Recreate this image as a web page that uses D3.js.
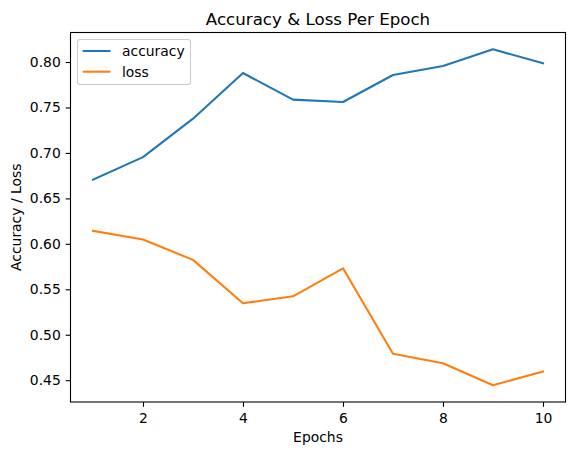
<!DOCTYPE html>
<html>
<head>
<meta charset="utf-8">
<script src="https://cdn.jsdelivr.net/npm/d3@7"></script>
<style>
  html, body { margin: 0; padding: 0; background: #fff; }
  svg { display: block; font-family: "DejaVu Sans", sans-serif; }
</style>
</head>
<body>
<svg id="chart" width="576" height="455"></svg>
<script>
const epochs = [1, 2, 3, 4, 5, 6, 7, 8, 9, 10];
const accuracy = [0.6706, 0.6954, 0.7377, 0.7879, 0.7586, 0.7560, 0.7857, 0.7956, 0.8140, 0.7986];
const loss = [0.6143, 0.6047, 0.5824, 0.5347, 0.5423, 0.5731, 0.4790, 0.4687, 0.4445, 0.4596];
const xTicks = [2, 4, 6, 8, 10];
const yTicks = [0.45, 0.50, 0.55, 0.60, 0.65, 0.70, 0.75, 0.80];
const seriesNames = ["accuracy", "loss"];
const colors = ["#1f77b4", "#ff7f0e"];

(function () {
const svg = d3.select("#chart");
const pLeft = 70.5, pRight = 565.5, pTop = 32.5, pBottom = 402;
const fs = "13.9px";

// matplotlib-like 5% margins
const xExt = d3.extent(epochs);
const xPad = (xExt[1] - xExt[0]) * 0.05;
const allY = accuracy.concat(loss);
const yExt = d3.extent(allY);
const yPad = (yExt[1] - yExt[0]) * 0.05;

const x = d3.scaleLinear().domain([xExt[0] - xPad, xExt[1] + xPad]).range([pLeft, pRight]);
const y = d3.scaleLinear().domain([yExt[0] - yPad, yExt[1] + yPad]).range([pBottom, pTop]);

const series = [accuracy, loss];
const line = d3.line().x((d, i) => x(epochs[i])).y(d => y(d));

const plot = svg.append("g");
series.forEach((s, k) => {
  plot.append("path")
    .attr("d", line(s))
    .attr("fill", "none")
    .attr("stroke", colors[k])
    .attr("stroke-width", 2.08)
    .attr("stroke-linejoin", "round")
    .attr("stroke-linecap", "square");
});

// Axes
const xAxis = d3.axisBottom(x).tickValues(xTicks).tickFormat(d3.format("d")).tickSize(4.86).tickPadding(4.86);
const gx = svg.append("g").attr("transform", `translate(0,${pBottom})`).call(xAxis);
const yAxis = d3.axisLeft(y).tickValues(yTicks).tickFormat(d3.format(".2f")).tickSize(4.86).tickPadding(4.86);
const gy = svg.append("g").attr("transform", `translate(${pLeft},0)`).call(yAxis);
[gx, gy].forEach(g => {
  g.select(".domain").remove();
  g.selectAll(".tick line").attr("stroke", "#000").attr("stroke-width", 1.1);
  g.selectAll(".tick text").attr("fill", "#000").style("font-size", fs).style("font-family", "DejaVu Sans, sans-serif");
});
gx.selectAll(".tick text").attr("dy", "0.8em");

// Frame
svg.append("rect")
  .attr("x", pLeft).attr("y", pTop)
  .attr("width", pRight - pLeft).attr("height", pBottom - pTop)
  .attr("fill", "none").attr("stroke", "#000").attr("stroke-width", 1.1);

// Titles
svg.append("text").attr("x", (pLeft + pRight) / 2).attr("y", 25)
  .attr("text-anchor", "middle").style("font-size", "16.67px").text("Accuracy & Loss Per Epoch");
svg.append("text").attr("x", (pLeft + pRight) / 2).attr("y", 442)
  .attr("text-anchor", "middle").style("font-size", fs).text("Epochs");
svg.append("text").attr("transform", `translate(21,${(pTop + pBottom) / 2}) rotate(-90)`)
  .attr("text-anchor", "middle").style("font-size", fs).text("Accuracy / Loss");

// Legend
const lg = svg.append("g");
lg.append("rect").attr("x", 77.5).attr("y", 39.5).attr("width", 113).attr("height", 45)
  .attr("rx", 2.8).attr("fill", "#fff").attr("fill-opacity", 0.8)
  .attr("stroke", "#cccccc").attr("stroke-width", 1.1);
seriesNames.forEach((name, k) => {
  const yy = 51 + k * 20.7;
  lg.append("line").attr("x1", 82.7).attr("x2", 110.5).attr("y1", yy).attr("y2", yy)
    .attr("stroke", colors[k]).attr("stroke-width", 2.08);
  lg.append("text").attr("x", 122).attr("y", yy + 4.9).style("font-size", fs).text(name);
});
})();
</script>
</body>
</html>
